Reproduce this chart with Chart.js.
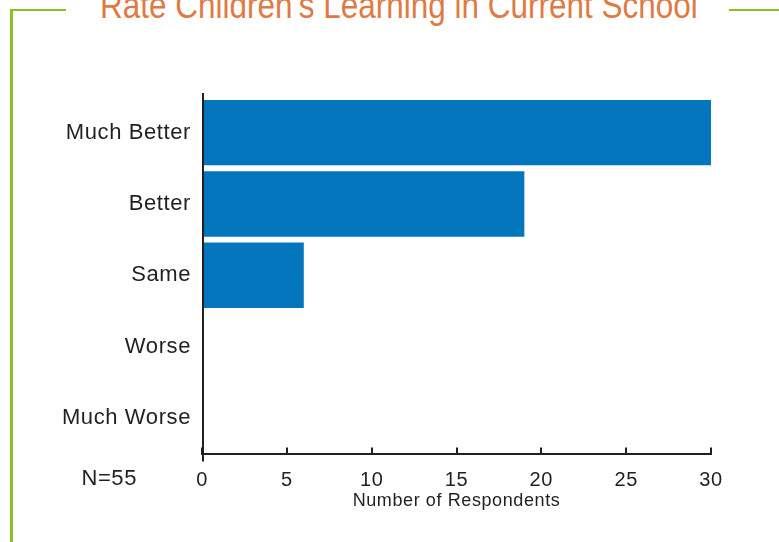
<!DOCTYPE html>
<html>
<head>
<meta charset="utf-8">
<script src="https://cdn.jsdelivr.net/npm/chart.js@4"></script>
<style>
  body { margin: 0; background: #fff; }
  #wrap { position: relative; width: 779px; height: 542px; overflow: hidden; }
  #chart { position: absolute; left: 0; top: 0; }
  .green { position: absolute; background: #8DBE22; }
  #title {
    position: absolute; left: 100px; top: -12px;
    font-family: "Liberation Sans Narrow", "Liberation Sans", Arial, sans-serif;
    font-size: 36px; line-height: 36px; color: #E07A44;
    white-space: nowrap; transform-origin: 0 0;
  }
</style>
</head>
<body>
<div id="wrap">
  <div class="green" style="left:10px; top:9px; width:56px; height:2px;"></div>
  <div class="green" style="left:10px; top:9px; width:3px; height:540px;"></div>
  <div class="green" style="left:729px; top:9px; width:50px; height:2px;"></div>
  <div id="title">Rate Children’s Learning in Current School</div>
  <canvas id="chart" width="779" height="542"></canvas>
</div>
<script>
const ctx = document.getElementById('chart');

const categorias = ['Much Better', 'Better', 'Same', 'Worse', 'Much Worse'];
const respondentes = [30, 19, 6, 0, 0];
const ticksX = [0, 5, 10, 15, 20, 25, 30];
const amostra = 'N=55';

const corTexto = '#231F20';
const fonte = '"Liberation Sans", Arial, Helvetica, sans-serif';

// fit the condensed title to its width in the picture
const titulo = document.getElementById('title');
titulo.style.transform = 'scaleX(' + (598 / titulo.offsetWidth) + ')';

const extras = {
    id: 'extras',
    beforeDraw(chart) {
        chart.ctx.letterSpacing = '0.6px';
    },
    afterDraw(chart) {
        const c = chart.ctx;
        const area = chart.chartArea;
        c.save();
        // y axis line, a bit past the x axis
        c.strokeStyle = corTexto;
        c.lineWidth = 2;
        c.beginPath();
        c.moveTo(area.left + 1, area.top - 4);
        c.lineTo(area.left + 1, area.bottom + 8);
        c.stroke();
        // sample size
        c.fillStyle = corTexto;
        c.font = '22px ' + fonte;
        c.textAlign = 'right';
        c.textBaseline = 'alphabetic';
        c.fillText(amostra, 137, 485);
        c.restore();
        chart.ctx.letterSpacing = '0px';
    }
};

new Chart(ctx, {
    type: 'bar',
    data: {
        labels: categorias,
        datasets: [{
            label: 'Number of Respondents',
            data: respondentes,
            backgroundColor: '#0476BE',
            borderWidth: 0,
            barPercentage: 0.917,
            categoryPercentage: 1
        }]
    },
    options: {
        indexAxis: 'y',
        responsive: false,
        animation: false,
        layout: {
            padding: { top: 97, right: 68, bottom: 0, left: 0 }
        },
        scales: {
            y: {
                afterFit(scale) { scale.width = 202; },
                grid: { display: false, drawTicks: false },
                border: { display: false },
                ticks: {
                    color: corTexto,
                    padding: 11,
                    font: { family: fonte, size: 22 }
                }
            },
            x: {
                min: 0,
                max: 30,
                afterFit(scale) { scale.height = 88.5; },
                afterBuildTicks(scale) {
                    scale.ticks = ticksX.map(v => ({ value: v }));
                },
                grid: {
                    drawOnChartArea: false,
                    drawTicks: true,
                    tickLength: -6,
                    color: corTexto,
                    lineWidth: 2
                },
                border: { display: true, color: corTexto, width: 2 },
                ticks: {
                    color: corTexto,
                    padding: 21,
                    maxRotation: 0,
                    font: { family: fonte, size: 20 }
                },
                title: {
                    display: true,
                    text: 'Number of Respondents',
                    color: corTexto,
                    padding: { top: 0, bottom: 30 },
                    font: { family: fonte, size: 18 }
                }
            }
        },
        plugins: {
            legend: { display: false },
            tooltip: { enabled: false }
        }
    },
    plugins: [extras]
});
</script>
</body>
</html>
